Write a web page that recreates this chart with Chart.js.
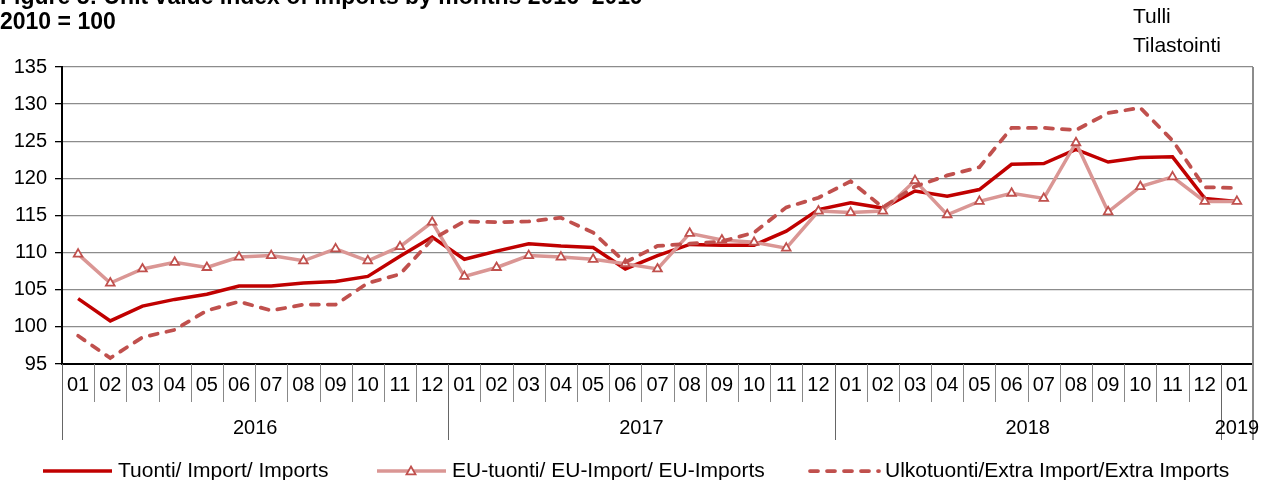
<!DOCTYPE html>
<html>
<head>
<meta charset="utf-8">
<script src="https://cdn.jsdelivr.net/npm/chart.js@4"></script>
<style>
    body { margin: 0; background: #fff; font-family: "Liberation Sans", Arial, sans-serif; }
    #wrap { position: relative; width: 1262px; height: 480px; overflow: hidden; }
    .title { position: absolute; left: 0; font-weight: bold; font-size: 23px; line-height: 24px; white-space: nowrap; }
    .source { position: absolute; left: 1133px; font-size: 21px; line-height: 29px; }
    canvas { position: absolute; left: 0; top: 0; }
</style>
</head>
<body>
<div id="wrap">
    <canvas id="chart" width="1262" height="480"></canvas>
    <div class="title" style="top:-16px">Figure 5: Unit value index of imports by months 2016–2019</div>
    <div class="title" style="top:9px">2010 = 100</div>
    <div class="source" style="top:1px">Tulli<br>Tilastointi</div>
</div>
<script>
const months = [
    "01", "02", "03", "04", "05", "06", "07", "08", "09", "10", "11", "12",
    "01", "02", "03", "04", "05", "06", "07", "08", "09", "10", "11", "12",
    "01", "02", "03", "04", "05", "06", "07", "08", "09", "10", "11", "12",
    "01",
];
const years = ["2016", "2017", "2018", "2019"];

const imports = [
    103.8, 100.8, 102.8, 103.7, 104.4, 105.5, 105.5, 105.9, 106.1, 106.8, 109.5, 112.1,
    109.1, 110.2, 111.2, 110.9, 110.7, 107.8, 109.6, 111.1, 111.0, 111.0, 112.9, 115.8,
    116.7, 116.0, 118.3, 117.6, 118.5, 121.9, 122.0, 123.9, 122.2, 122.8, 122.9, 117.3,
    116.9,
];
const euImports = [
    109.8, 105.9, 107.8, 108.7, 108.0, 109.4, 109.6, 108.9, 110.5, 108.9, 110.8, 114.1,
    106.8, 108.0, 109.6, 109.4, 109.1, 108.5, 107.8, 112.6, 111.7, 111.4, 110.6, 115.6,
    115.4, 115.6, 119.7, 115.1, 116.9, 118.0, 117.3, 124.8, 115.5, 118.9, 120.2, 116.9,
    116.9,
];
const extraImports = [
    98.8, 95.8, 98.6, 99.6, 102.2, 103.4, 102.2, 103.0, 103.0, 105.9, 107.1, 111.8,
    114.2, 114.1, 114.2, 114.7, 112.7, 108.7, 110.9, 111.2, 111.5, 112.7, 116.1, 117.4,
    119.6, 116.1, 118.9, 120.4, 121.5, 126.8, 126.8, 126.5, 128.8, 129.5, 125.1, 118.8,
    118.7,
];

const FONT = "'Liberation Sans', Arial, sans-serif";

// month / year separators under the axis, year labels, and the legend row
const axisDecor = {
    id: "axisDecor",
    afterDraw(chart) {
        const ctx = chart.ctx;
        const x = chart.scales.x;
        const area = chart.chartArea;
        const n = months.length;
        const step = x.getPixelForValue(1) - x.getPixelForValue(0);
        const edge = (i) => x.getPixelForValue(i) - step / 2;

        ctx.save();
        for (let i = 0; i <= n; i++) {
            const isYear = i % 12 === 0 || i === n;
            ctx.beginPath();
            ctx.strokeStyle = isYear ? "#666" : "#888";
            ctx.lineWidth = 1;
            ctx.moveTo(Math.round(edge(i)) + 0.5, area.bottom);
            ctx.lineTo(Math.round(edge(i)) + 0.5, area.bottom + (isYear ? 76 : 38));
            ctx.stroke();
        }
        // right border of plot
        ctx.beginPath();
        ctx.strokeStyle = "#8c8c8c";
        ctx.lineWidth = 2;
        ctx.moveTo(area.right, area.top);
        ctx.lineTo(area.right, area.bottom + 76);
        ctx.stroke();

        ctx.fillStyle = "#000";
        ctx.font = "20px " + FONT;
        ctx.textAlign = "center";
        ctx.textBaseline = "middle";
        years.forEach((yr, k) => {
            const s = k * 12;
            const e = Math.min(s + 12, n);
            ctx.fillText(yr, (edge(s) + edge(e)) / 2, area.bottom + 64);
        });

        // legend
        const ly = 471;
        const starts = [43, 377, 810];
        ctx.font = "21px " + FONT;
        chart.data.datasets.forEach((ds, k) => {
            const x0 = starts[k];
            ctx.beginPath();
            ctx.strokeStyle = ds.borderColor;
            ctx.lineWidth = ds.borderWidth;
            ctx.lineCap = ds.borderCapStyle || "butt";
            ctx.setLineDash(ds.borderDash || []);
            ctx.moveTo(x0, ly);
            ctx.lineTo(x0 + 69, ly);
            ctx.stroke();
            ctx.setLineDash([]);
            if (ds.pointStyle === "triangle") {
                const cx = x0 + 34, r = 4.5;
                ctx.beginPath();
                ctx.moveTo(cx, ly - r);
                ctx.lineTo(cx + r, ly + r * 0.75);
                ctx.lineTo(cx - r, ly + r * 0.75);
                ctx.closePath();
                ctx.fillStyle = ds.pointBackgroundColor;
                ctx.fill();
                ctx.strokeStyle = ds.pointBorderColor;
                ctx.lineWidth = 1.8;
                ctx.stroke();
            }
            ctx.fillStyle = "#000";
            ctx.textAlign = "left";
            ctx.fillText(ds.label, x0 + 75, ly);
        });
        ctx.restore();
    },
};

new Chart(document.getElementById("chart"), {
    type: "line",
    data: {
        labels: months,
        datasets: [
            {
                label: "Tuonti/ Import/ Imports",
                data: imports,
                borderColor: "#C00000",
                borderWidth: 3.5,
                pointRadius: 0,
                order: 2,
            },
            {
                label: "EU-tuonti/ EU-Import/ EU-Imports",
                data: euImports,
                borderColor: "#DA9694",
                borderWidth: 3.5,
                pointStyle: "triangle",
                pointRadius: 5,
                pointBackgroundColor: "#ffffff",
                pointBorderColor: "#C0504D",
                pointBorderWidth: 1.8,
                order: 1,
            },
            {
                label: "Ulkotuonti/Extra Import/Extra Imports",
                data: extraImports,
                borderColor: "#C0504D",
                borderWidth: 3.75,
                borderDash: [8, 9],
                borderCapStyle: "round",
                pointRadius: 0,
                order: 0,
            },
        ],
    },
    options: {
        responsive: false,
        animation: false,
        layout: { padding: { top: 67, right: 9, left: 0, bottom: 0 } },
        plugins: {
            legend: { display: false },
            tooltip: { enabled: false },
        },
        scales: {
            x: {
                offset: true,
                grid: { display: false, drawTicks: false },
                border: { color: "#000", width: 2 },
                ticks: {
                    color: "#000",
                    font: { family: FONT, size: 20 },
                    padding: 9,
                    maxRotation: 0,
                    autoSkip: false,
                },
                afterFit(scale) { scale.height = 116; },
            },
            y: {
                min: 95,
                max: 135,
                grid: { color: "#8c8c8c", lineWidth: 1.3, tickColor: "#000", tickLength: 7 },
                border: { color: "#000", width: 2 },
                ticks: {
                    stepSize: 5,
                    color: "#000",
                    font: { family: FONT, size: 20 },
                    padding: 8,
                },
                afterFit(scale) { scale.width = 62; },
            },
        },
    },
    plugins: [axisDecor],
});
</script>
</body>
</html>
